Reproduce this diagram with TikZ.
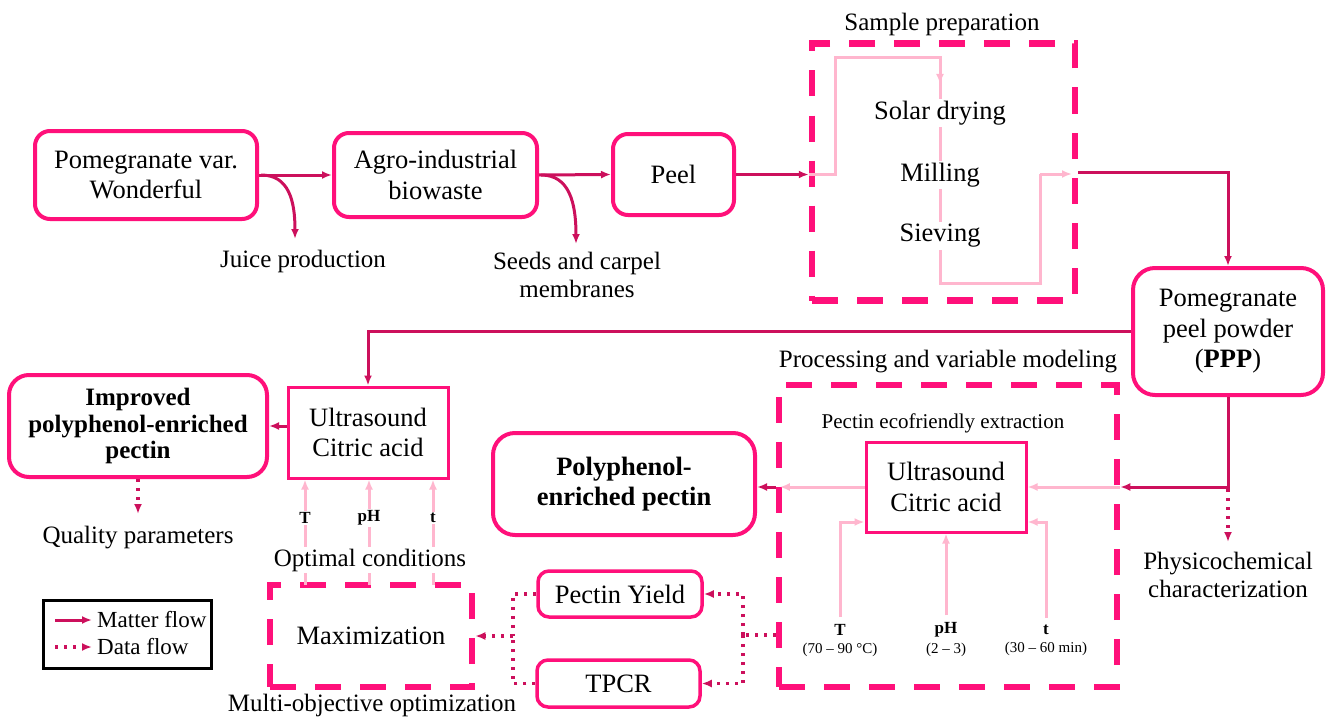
\documentclass[tikz,border=0pt]{standalone}
\usepackage{fontspec}
\setmainfont{Liberation Serif}
\usetikzlibrary{arrows.meta}
\definecolor{pk}{RGB}{255,16,122}
\definecolor{dk}{RGB}{204,16,92}
\definecolor{lt}{RGB}{255,182,206}
\newcommand\myBox{\fontsize{26.5}{30.5}\selectfont}
\newcommand\myLab{\fontsize{25}{27.5}\selectfont}
\newcommand\mySmall{\fontsize{21}{24}\selectfont}
\newcommand\myPar{\fontsize{17}{20}\selectfont\bfseries}
\newcommand\myRng{\fontsize{15}{18}\selectfont}
\begin{document}
\begin{tikzpicture}[x=1pt,y=-1pt,
  rbox/.style={draw=pk, line width=4pt, rounded corners=15pt, align=center, font=\myBox, inner sep=0pt},
  sbox/.style={draw=pk, line width=3pt, align=center, font=\myBox, inner sep=0pt},
  dbox/.style={draw=pk, line width=6.5pt, dash pattern=on 26pt off 19pt, align=center, font=\myBox, inner sep=0pt},
  lbl/.style={align=center, font=\myLab, inner sep=0pt},
  wlbl/.style={align=center, font=\myLab, inner sep=2pt, fill=white},
  wpar/.style={align=center, font=\myPar, inner sep=1.5pt, fill=white},
  par/.style={align=center, font=\myPar, inner sep=1pt},
  rng/.style={align=center, font=\myRng, inner sep=1pt},
  tip/.style={-{Latex[length=10pt,width=8pt]}},
  mat/.style={draw=dk, line width=3pt, tip},
  dat/.style={draw=dk, line width=3.2pt, dash pattern=on 3pt off 6pt, tip},
  datl/.style={draw=dk, line width=3.2pt, dash pattern=on 3pt off 6pt},
  lite/.style={draw=lt, line width=3pt, tip},
  litel/.style={draw=lt, line width=3pt},
]
\useasboundingbox (0,0) rectangle (1326,717);

% ---------- boxes ----------
\node[rbox, minimum width=222, minimum height=88] (pom) at (146,175) {Pomegranate var.\\Wonderful};
\node[rbox, minimum width=203, minimum height=84] (agro) at (435.5,175) {Agro-industrial\\biowaste};
\node[rbox, minimum width=121, minimum height=81] (peel) at (673.5,174.5) {Peel};
\node[dbox, minimum width=263, minimum height=257] (samp) at (943.5,172) {};
\node[rbox, rounded corners=22pt, minimum width=190, minimum height=127] (ppp) at (1228,331.5) {Pomegranate\\peel powder\\(\textbf{PPP})};

\node[dbox, minimum width=338, minimum height=302] (proc) at (948,536) {};
\node[sbox, minimum width=160, minimum height=90] (ultra1) at (946,487) {Ultrasound\\Citric acid};
\node[rbox, rounded corners=22pt, font=\myBox\bfseries, minimum width=262, minimum height=102] (poly) at (624,484) {Polyphenol-\\enriched pectin};
\node[rbox, line width=3.5pt, rounded corners=11pt, minimum width=164, minimum height=46] (yield) at (620,594) {Pectin Yield};
\node[rbox, line width=3.5pt, rounded corners=11pt, minimum width=163, minimum height=47] (tpcr) at (618.5,683.5) {TPCR};
\node[dbox, minimum width=202, minimum height=102] (maxim) at (371,636) {Maximization};

\node[sbox, minimum width=160, minimum height=91] (ultra2) at (368,432.5) {Ultrasound\\Citric acid};
\node[rbox, rounded corners=20pt, font=\fontsize{25}{26.5}\selectfont\bfseries, minimum width=258, minimum height=102] (impr) at (138,426) {Improved\\polyphenol-enriched\\pectin};

\node[draw=black, line width=3pt, minimum width=168, minimum height=68, inner sep=0pt] (leg) at (127,634) {};

% ---------- plain labels ----------
\node[lbl] (juice) at (303,261) {Juice production};
\node[lbl] (seeds) at (577,275) {Seeds and carpel\\membranes};
\node[lbl] (spt) at (942,24) {Sample preparation};
\node[lbl] (proct) at (948,362) {Processing and variable modeling};
\node[lbl, font=\mySmall] (pect) at (943,423) {Pectin ecofriendly extraction};
\node[lbl] (phys) at (1228,575) {Physicochemical\\characterization};
\node[lbl] (qual) at (138,538) {Quality parameters};
\node[lbl] (mobj) at (372,705) {Multi-objective optimization};

\node[par] (T1) at (840,630) {T};
\node[rng] (T1r) at (840,650) {(70 – 90 °C)};
\node[par] (pH1) at (946,630) {pH};
\node[rng] (pH1r) at (946,650) {(2 – 3)};
\node[par] (t1) at (1046,630) {t};
\node[rng] (t1r) at (1046,649) {(30 – 60 min)};

\node[lbl, font=\fontsize{23}{26}\selectfont, anchor=west] (mf) at (97,620) {Matter flow};
\node[lbl, font=\fontsize{23}{26}\selectfont, anchor=west] (df) at (97,647) {Data flow};

% ---------- coordinates ----------
\coordinate (jt) at (295,239);
\coordinate (st) at (576,244);
\coordinate (pa) at (1228,489);
\coordinate (pb) at (1228,542);
\coordinate (qa) at (138,514);
\coordinate (dm) at (743,635);
\coordinate (lm) at (513,636);
\coordinate (o1) at (305,585);
\coordinate (o2) at (369,585);
\coordinate (o3) at (433,585);
\coordinate (pw) at (proc.west |- ultra1.west);
\coordinate (pe) at (proc.east |- ultra1.east);

% ---------- top row connectors ----------
\draw[mat] (pom.east) -- (agro.west);
\draw[mat] ([xshift=2pt]pom.east) .. controls +(28,0) and +(0,-38) .. (jt);
\draw[mat] (agro.east) -- (peel.west);
\draw[mat] ([xshift=2pt]agro.east) .. controls +(28,0) and +(0,-42) .. (st);
\draw[mat] (peel.east) -- (samp.west |- peel.east);

% sample preparation internal flow
\draw[litel] (samp.west |- peel.east) -- (835,174.5) |- (940,58) -- (940,283) -| (1040,174);
\draw[lite] (940,58) -- (940,84);
\draw[lite] (1040,174) -- (1072,174);
\node[wlbl, font=\myBox] (solar) at (940,113) {Solar drying};
\node[wlbl, font=\myBox] (milling) at (940,175) {Milling};
\node[wlbl, font=\myBox] (sieving) at (940,236) {Sieving};

\draw[mat] (samp.east) -| (ppp.north);

% ---------- PPP outputs ----------
\draw[mat] (ppp.west) -| (ultra2.north);
\draw[mat] (ppp.south) |- (pe);
\draw[dat] (pa) -- (pb);

% processing box internals
\draw[lite] (pe) -- (ultra1.east);
\draw[lite] (ultra1.west) -- ([xshift=4pt]pw);
\draw[mat] (pw) -- (poly.east |- pw);
\draw[lite] ([yshift=6pt]T1.north) |- ([yshift=-35pt]ultra1.west);
\draw[lite] ([yshift=6pt]pH1.north) -- (ultra1.south);
\draw[lite] ([yshift=6pt]t1.north) |- ([yshift=-35pt]ultra1.east);

% data flow to responses and maximization
\draw[datl] (proc.west |- dm) -- (dm);
\draw[dat] (dm) |- (yield.east);
\draw[dat] (dm) |- (tpcr.east);
\draw[datl] (yield.west) -| (lm);
\draw[datl] (tpcr.west) -| (lm);
\draw[dat] (lm) -- (maxim.east);

% optimal conditions
\draw[lite] (o1) -- (o1 |- ultra2.south);
\draw[lite] (o2) -- (o2 |- ultra2.south);
\draw[lite] (o3) -- (o3 |- ultra2.south);
\node[wpar] (T2) at (305,518) {T};
\node[wpar] (pH2) at (369,518) {pH};
\node[wpar] (t2) at (433,518) {t};
\node[wlbl] (optc) at (370,560) {Optimal conditions};

% left outputs
\draw[mat] (ultra2.west |- impr.east) -- (impr.east);
\draw[dat] (impr.south) -- (qa);

% legend
\draw[mat] ([xshift=-42pt]mf.west) -- ([xshift=-5pt]mf.west);
\draw[dat] ([xshift=-42pt]df.west) -- ([xshift=-5pt]df.west);
\end{tikzpicture}
\end{document}
